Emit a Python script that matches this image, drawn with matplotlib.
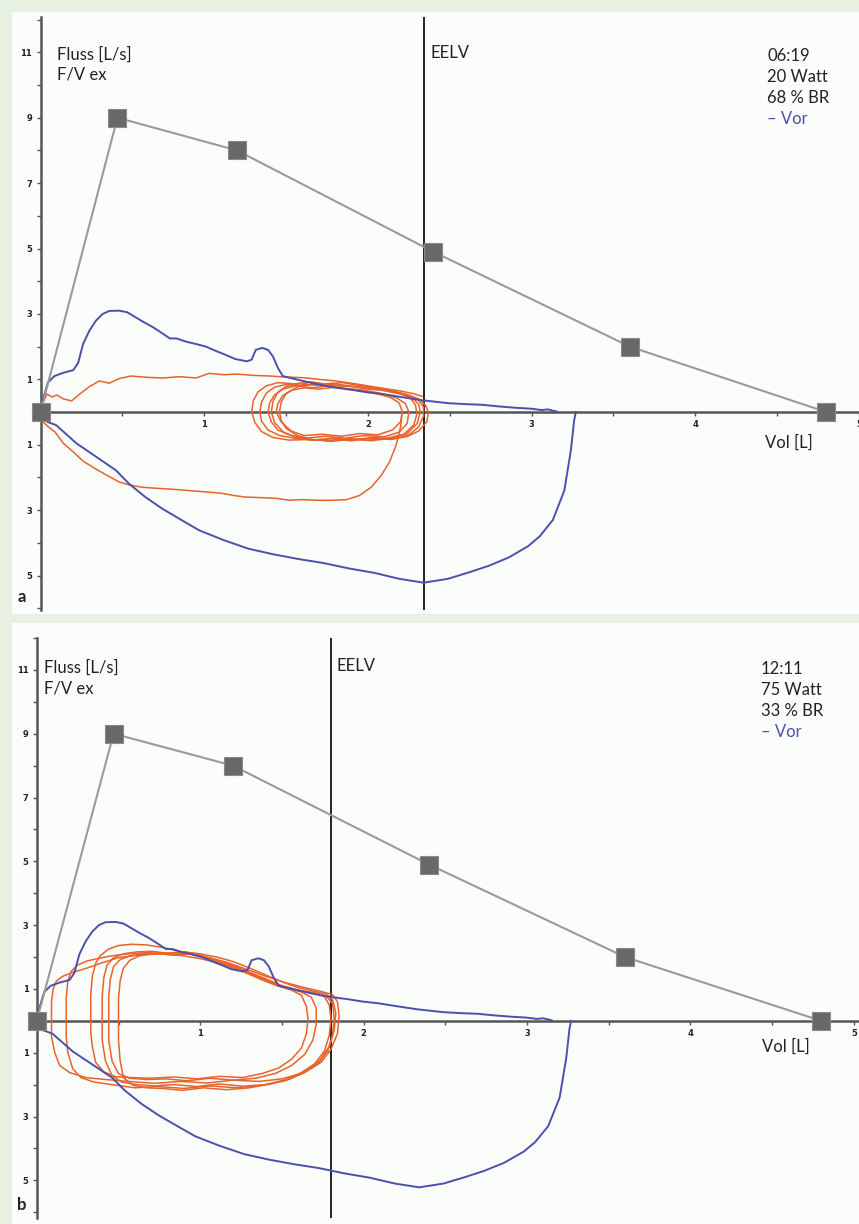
import matplotlib.pyplot as plt
from matplotlib.patches import Rectangle

# Soll-Kurve (Quadrate), Vol [L] / Fluss [L/s]
soll_vol = [0, 0.47, 1.2, 2.4, 3.6, 4.8]
soll_flow = [0, 9.0, 8.0, 4.9, 2.0, 0]

# Blau: "Vor" - exspiratorischer Teil
vor_ex_vol = [0.00, 0.01, 0.045, 0.085, 0.14, 0.20, 0.23, 0.26, 0.30, 0.34, 0.38, 0.42, 0.48, 0.53,
              0.58, 0.63, 0.685, 0.74, 0.79, 0.83, 0.89, 0.95, 1.01, 1.07, 1.13, 1.19, 1.26, 1.29,
              1.315, 1.355, 1.39, 1.42, 1.45, 1.48, 1.56, 1.68, 1.78, 1.90, 2.00, 2.09, 2.20, 2.33,
              2.49, 2.60, 2.70, 2.80, 2.90, 3.00, 3.06, 3.10, 3.13, 3.15]
vor_ex_flow = [0.00, 0.30, 0.90, 1.10, 1.20, 1.28, 1.50, 2.08, 2.50, 2.80, 3.00, 3.09, 3.10, 3.05,
               2.90, 2.75, 2.60, 2.42, 2.25, 2.25, 2.15, 2.08, 2.00, 1.87, 1.75, 1.62, 1.55, 1.60,
               1.90, 1.96, 1.90, 1.70, 1.35, 1.10, 1.00, 0.86, 0.76, 0.68, 0.60, 0.55, 0.46, 0.36,
               0.27, 0.24, 0.22, 0.17, 0.13, 0.10, 0.06, 0.08, 0.04, 0.02]
# Blau: inspiratorischer Teil (negativ)
vor_in_vol = [3.27, 3.26, 3.24, 3.20, 3.13, 3.05, 2.98, 2.86, 2.74, 2.62, 2.49, 2.34, 2.19, 2.04,
              1.88, 1.73, 1.58, 1.42, 1.27, 1.12, 0.97, 0.86, 0.745, 0.64, 0.54, 0.46, 0.34, 0.22,
              0.095, 0.04, 0.01, 0.00]
vor_in_flow = [0.00, -0.25, -1.17, -2.40, -3.30, -3.80, -4.10, -4.45, -4.70, -4.90, -5.10, -5.22,
               -5.10, -4.92, -4.78, -4.62, -4.50, -4.35, -4.18, -3.92, -3.62, -3.30, -2.96, -2.60,
               -2.19, -1.78, -1.37, -0.96, -0.40, -0.30, -0.20, 0.00]

# Orange, Bild a: erster tiefer Atemzug
a_tief_vol = [2.21, 2.20, 2.17, 2.13, 2.08, 2.02, 1.95, 1.87, 1.78, 1.70, 1.60, 1.52, 1.44, 1.35,
              1.25, 1.19, 1.10, 1.00, 0.90, 0.80, 0.70, 0.62, 0.55, 0.48, 0.40, 0.33, 0.26, 0.20,
              0.14, 0.09, 0.05, 0.01, 0.00, 0.02, 0.04, 0.07, 0.10, 0.14, 0.19, 0.24, 0.30, 0.36,
              0.42, 0.48, 0.55, 0.65, 0.75, 0.85, 0.95, 1.03, 1.12, 1.20, 1.30, 1.40, 1.50, 1.60,
              1.70, 1.80, 1.90, 2.00, 2.10, 2.20, 2.28, 2.33]
a_tief_flow = [0.00, -0.45, -1.05, -1.55, -1.95, -2.30, -2.55, -2.68, -2.70, -2.70, -2.68, -2.70,
               -2.64, -2.62, -2.60, -2.56, -2.48, -2.44, -2.40, -2.36, -2.33, -2.30, -2.24, -2.14,
               -1.92, -1.72, -1.50, -1.22, -0.96, -0.62, -0.46, -0.28, 0.00, 0.34, 0.55, 0.46,
               0.52, 0.40, 0.34, 0.55, 0.78, 0.95, 0.88, 1.02, 1.10, 1.06, 1.04, 1.08, 1.04, 1.18,
               1.14, 1.16, 1.12, 1.10, 1.07, 1.05, 1.00, 0.95, 0.88, 0.80, 0.72, 0.64, 0.56, 0.48]

# Orange, Bild a: Ruheatemschleifen
a_loops_vol = [
    [1.29, 1.30, 1.33, 1.38, 1.45, 1.55, 1.65, 1.75, 1.85, 1.95, 2.05, 2.13, 2.20, 2.26, 2.29,
     2.30, 2.28, 2.22, 2.12, 2.00, 1.88, 1.76, 1.64, 1.52, 1.42, 1.35, 1.31, 1.29],
    [1.34, 1.35, 1.38, 1.43, 1.50, 1.60, 1.70, 1.80, 1.90, 2.00, 2.10, 2.18, 2.25, 2.31, 2.34,
     2.34, 2.31, 2.25, 2.15, 2.03, 1.90, 1.78, 1.66, 1.55, 1.46, 1.39, 1.35, 1.34],
    [1.39, 1.40, 1.43, 1.48, 1.56, 1.66, 1.76, 1.86, 1.96, 2.05, 2.12, 2.18, 2.23, 2.25, 2.24,
     2.19, 2.10, 1.98, 1.86, 1.74, 1.62, 1.52, 1.45, 1.41, 1.39],
    [1.41, 1.42, 1.45, 1.50, 1.58, 1.68, 1.78, 1.88, 1.98, 2.08, 2.17, 2.25, 2.31, 2.35, 2.37,
     2.36, 2.31, 2.24, 2.14, 2.02, 1.90, 1.78, 1.66, 1.55, 1.48, 1.43, 1.41],
    [1.44, 1.45, 1.48, 1.53, 1.61, 1.70, 1.80, 1.90, 1.99, 2.07, 2.14, 2.19, 2.21, 2.20, 2.15,
     2.06, 1.95, 1.84, 1.72, 1.61, 1.53, 1.47, 1.44],
    [1.46, 1.47, 1.50, 1.56, 1.64, 1.74, 1.84, 1.94, 2.04, 2.13, 2.21, 2.27, 2.31, 2.32, 2.30,
     2.24, 2.14, 2.02, 1.90, 1.78, 1.66, 1.57, 1.50, 1.47, 1.46],
]
a_loops_flow = [
    [0.00, 0.35, 0.62, 0.80, 0.90, 0.86, 0.92, 0.85, 0.80, 0.76, 0.70, 0.62, 0.55, 0.42, 0.22,
     -0.05, -0.40, -0.68, -0.80, -0.86, -0.82, -0.88, -0.84, -0.86, -0.78, -0.60, -0.32, 0.00],
    [0.00, 0.30, 0.58, 0.76, 0.84, 0.80, 0.86, 0.80, 0.78, 0.70, 0.66, 0.58, 0.50, 0.36, 0.15,
     -0.12, -0.46, -0.70, -0.82, -0.78, -0.85, -0.80, -0.86, -0.80, -0.72, -0.55, -0.28, 0.00],
    [0.00, 0.28, 0.52, 0.70, 0.80, 0.74, 0.80, 0.72, 0.68, 0.60, 0.52, 0.42, 0.25, 0.00, -0.35,
     -0.62, -0.76, -0.72, -0.80, -0.74, -0.80, -0.70, -0.55, -0.30, 0.00],
    [0.00, 0.32, 0.60, 0.78, 0.86, 0.82, 0.88, 0.80, 0.76, 0.70, 0.62, 0.52, 0.40, 0.22, 0.00,
     -0.30, -0.58, -0.75, -0.84, -0.80, -0.88, -0.82, -0.86, -0.76, -0.60, -0.32, 0.00],
    [0.00, 0.26, 0.50, 0.66, 0.74, 0.70, 0.76, 0.68, 0.62, 0.54, 0.44, 0.28, 0.02, -0.30, -0.55,
     -0.70, -0.66, -0.74, -0.68, -0.72, -0.58, -0.30, 0.00],
    [0.00, 0.30, 0.56, 0.74, 0.92, 0.84, 0.90, 0.82, 0.74, 0.66, 0.56, 0.44, 0.24, 0.00, -0.36,
     -0.66, -0.80, -0.88, -0.82, -0.90, -0.84, -0.72, -0.50, -0.26, 0.00],
]

# Orange, Bild b: Belastungsschleifen
b_loops_vol = [
    [0.09, 0.09, 0.10, 0.12, 0.16, 0.22, 0.30, 0.40, 0.50, 0.62, 0.75, 0.88, 1.00, 1.12, 1.24,
     1.36, 1.48, 1.60, 1.70, 1.77, 1.81, 1.82, 1.81, 1.78, 1.72, 1.62, 1.50, 1.36, 1.20, 1.04,
     0.88, 0.72, 0.56, 0.42, 0.30, 0.20, 0.14, 0.11, 0.09, 0.09],
    [0.18, 0.18, 0.19, 0.21, 0.25, 0.31, 0.38, 0.46, 0.56, 0.68, 0.80, 0.92, 1.04, 1.16, 1.28,
     1.40, 1.52, 1.64, 1.74, 1.81, 1.84, 1.85, 1.84, 1.80, 1.74, 1.64, 1.52, 1.38, 1.22, 1.06,
     0.90, 0.74, 0.60, 0.46, 0.35, 0.27, 0.22, 0.19, 0.18, 0.18],
    [0.33, 0.33, 0.34, 0.36, 0.39, 0.44, 0.50, 0.58, 0.67, 0.77, 0.87, 0.97, 1.07, 1.17, 1.27,
     1.37, 1.47, 1.56, 1.62, 1.65, 1.66, 1.65, 1.62, 1.56, 1.48, 1.38, 1.26, 1.12, 0.98, 0.84,
     0.70, 0.58, 0.48, 0.41, 0.36, 0.34, 0.33, 0.33],
    [0.40, 0.40, 0.41, 0.43, 0.47, 0.53, 0.61, 0.70, 0.80, 0.90, 1.00, 1.10, 1.20, 1.30, 1.40,
     1.50, 1.60, 1.70, 1.76, 1.79, 1.80, 1.79, 1.76, 1.70, 1.62, 1.52, 1.40, 1.26, 1.12, 0.98,
     0.84, 0.72, 0.61, 0.52, 0.46, 0.42, 0.40, 0.40],
    [0.44, 0.44, 0.45, 0.47, 0.51, 0.57, 0.65, 0.74, 0.84, 0.94, 1.04, 1.14, 1.24, 1.34, 1.44,
     1.54, 1.62, 1.68, 1.71, 1.71, 1.69, 1.64, 1.56, 1.46, 1.34, 1.20, 1.06, 0.92, 0.79, 0.67,
     0.57, 0.50, 0.46, 0.44, 0.44],
    [0.50, 0.50, 0.51, 0.53, 0.57, 0.63, 0.71, 0.80, 0.90, 1.00, 1.10, 1.20, 1.30, 1.40, 1.50,
     1.60, 1.70, 1.77, 1.81, 1.83, 1.82, 1.79, 1.73, 1.65, 1.55, 1.43, 1.30, 1.16, 1.02, 0.89,
     0.77, 0.67, 0.59, 0.53, 0.51, 0.50, 0.50],
]
b_loops_flow = [
    [0.00, 0.60, 1.00, 1.25, 1.40, 1.52, 1.64, 1.82, 1.98, 2.06, 2.10, 2.05, 1.95, 1.80, 1.58,
     1.34, 1.12, 0.96, 0.88, 0.78, 0.55, 0.10, -0.45, -0.95, -1.35, -1.65, -1.82, -1.90, -1.86,
     -1.95, -1.90, -1.96, -1.90, -1.84, -1.78, -1.62, -1.40, -1.00, -0.50, 0.00],
    [0.00, 0.70, 1.25, 1.55, 1.75, 1.88, 1.96, 2.04, 2.10, 2.14, 2.08, 2.12, 1.98, 1.84, 1.62,
     1.40, 1.20, 1.04, 0.92, 0.82, 0.60, 0.15, -0.40, -0.90, -1.30, -1.62, -1.88, -2.02, -2.10,
     -2.04, -2.12, -2.06, -2.10, -2.00, -1.92, -1.78, -1.50, -1.00, -0.50, 0.00],
    [0.00, 0.80, 1.40, 1.80, 2.05, 2.25, 2.36, 2.40, 2.38, 2.30, 2.18, 2.10, 1.92, 1.75, 1.55,
     1.30, 1.10, 0.96, 0.80, 0.45, 0.05, -0.40, -0.85, -1.20, -1.48, -1.65, -1.78, -1.74, -1.82,
     -1.76, -1.80, -1.78, -1.75, -1.60, -1.30, -0.80, -0.35, 0.00],
    [0.00, 0.75, 1.35, 1.75, 1.98, 2.10, 2.16, 2.18, 2.12, 2.16, 2.06, 1.92, 1.74, 1.52, 1.32,
     1.10, 0.96, 0.86, 0.76, 0.50, 0.05, -0.45, -0.95, -1.35, -1.62, -1.85, -2.00, -2.05, -1.98,
     -2.06, -2.00, -2.04, -2.00, -1.92, -1.72, -1.25, -0.60, 0.00],
    [0.00, 0.75, 1.30, 1.70, 1.92, 2.04, 2.10, 2.12, 2.06, 2.10, 1.96, 1.80, 1.62, 1.42, 1.20,
     1.02, 0.90, 0.74, 0.40, -0.10, -0.60, -1.05, -1.40, -1.65, -1.80, -1.86, -1.80, -1.88,
     -1.82, -1.84, -1.80, -1.66, -1.25, -0.60, 0.00],
    [0.00, 0.70, 1.25, 1.65, 1.90, 2.04, 2.10, 2.12, 2.16, 2.10, 2.00, 1.86, 1.66, 1.44, 1.22,
     1.04, 0.92, 0.84, 0.66, 0.25, -0.30, -0.80, -1.25, -1.58, -1.82, -1.98, -2.10, -2.16, -2.10,
     -2.18, -2.12, -2.10, -2.02, -1.78, -1.25, -0.60, 0.00],
]

eelv = {'a': 2.34, 'b': 1.80}
info = {'a': ['06:19', '20 Watt', '68 % BR'], 'b': ['12:11', '75 Watt', '33 % BR']}

W, H = 859, 1224
BLAU = '#4b50ad'
ORANGE = '#e8632c'
GRAU = '#555555'
FONT = 'Lato'
FS = 12

fig = plt.figure(figsize=(W / 100, H / 100), dpi=100, facecolor='#e7f1e3')


def fx(x):
    return x / W


def fy(y):
    return 1 - y / H


# helle Innenflaechen
fig.add_artist(Rectangle((fx(12), fy(614)), fx(W - 12), 602 / H, transform=fig.transFigure,
                         facecolor='#fbfdfb', edgecolor='none', zorder=-5))
fig.add_artist(Rectangle((fx(12), fy(H)), fx(W - 12), (H - 623) / H, transform=fig.transFigure,
                         facecolor='#fbfdfb', edgecolor='none', zorder=-5))


def panel(name, x0, xs, y0, ys, top, bottom, loops_v, loops_f, extra=None, tx=None):
    ax = fig.add_axes([fx(x0), fy(bottom), (W - x0) / W, (bottom - top) / H])
    ax.set_facecolor('none')
    ax.set_xlim(0, (W - x0) / xs)
    ax.set_ylim(-(bottom - y0) / ys, (y0 - top) / ys)
    for s in ['top', 'right']:
        ax.spines[s].set_visible(False)
    ax.spines['left'].set_position(('data', 0))
    ax.spines['bottom'].set_position(('data', 0))
    for s in ['left', 'bottom']:
        ax.spines[s].set_color(GRAU)
        ax.spines[s].set_linewidth(1.8)

    ax.set_xticks([1, 2, 3, 4, 5])
    ax.set_xticks([0.5, 1.5, 2.5, 3.5, 4.5], minor=True)
    yt = [-5, -3, -1, 1, 3, 5, 7, 9, 11]
    ax.set_yticks(yt)
    ax.set_yticklabels([str(abs(v)) for v in yt])
    ax.set_yticks(list(range(-6, 13)), minor=True)
    ax.tick_params(which='both', direction='out', length=3, width=1, colors=GRAU,
                   labelsize=6, pad=3, labelcolor='#222222')
    for lab in ax.get_xticklabels() + ax.get_yticklabels():
        lab.set_fontweight('bold')

    ax.axvline(eelv[name], color='#111111', lw=1.3, zorder=3)

    for v, f in zip(loops_v, loops_f):
        ax.plot(v, f, color=ORANGE, lw=1.1, zorder=3)
    if extra is not None:
        ax.plot(extra[0], extra[1], color=ORANGE, lw=1.1, zorder=3)

    ax.plot(vor_ex_vol, vor_ex_flow, color=BLAU, lw=1.4, zorder=4)
    ax.plot(vor_in_vol, vor_in_flow, color=BLAU, lw=1.4, zorder=4)

    ax.plot(soll_vol, soll_flow, color='#9a9a9a', lw=1.5, zorder=5, marker='s',
            markersize=12.5, markerfacecolor='#686868', markeredgecolor='#8a8a8a',
            markeredgewidth=0.8, clip_on=False)

    # Beschriftungen (Pixelpositionen)
    fx0, fl, rx, rl, ex, vl, lab = tx
    fig.text(fx(fx0), fy(fl), 'Fluss [L/s]', fontsize=FS, family=FONT, color='#222222')
    fig.text(fx(fx0), fy(fl + 20), 'F/V ex', fontsize=FS, family=FONT, color='#222222')
    for i, t in enumerate(info[name]):
        fig.text(fx(rx), fy(rl + 21 * i), t, fontsize=FS, family=FONT, color='#222222')
    fig.text(fx(rx), fy(rl + 63), '– Vor', fontsize=FS, family=FONT, color=BLAU)
    fig.text(fx(ex), fy(fl - 2), 'EELV', fontsize=FS, family=FONT, color='#222222')
    fig.text(fx(vl[0]), fy(vl[1]), 'Vol [L]', fontsize=FS, family=FONT, color='#222222')
    fig.text(fx(lab[0]), fy(lab[1]), name, fontsize=12, family=FONT, fontweight='bold',
             color='#222222')
    return ax


panel('a', 40.5, 164.0, 412, 32.7, 17, 610, a_loops_vol, a_loops_flow,
      extra=(a_tief_vol, a_tief_flow),
      tx=(57, 60, 767, 61, 431, (765, 448), (18, 602)))
panel('b', 36.8, 163.4, 1016.5, 32.6, 638, 1218, b_loops_vol, b_loops_flow,
      tx=(44, 673, 761, 674, 337, (762, 1052), (17, 1210)))

fig.savefig('out.png', dpi=100, facecolor=fig.get_facecolor())
